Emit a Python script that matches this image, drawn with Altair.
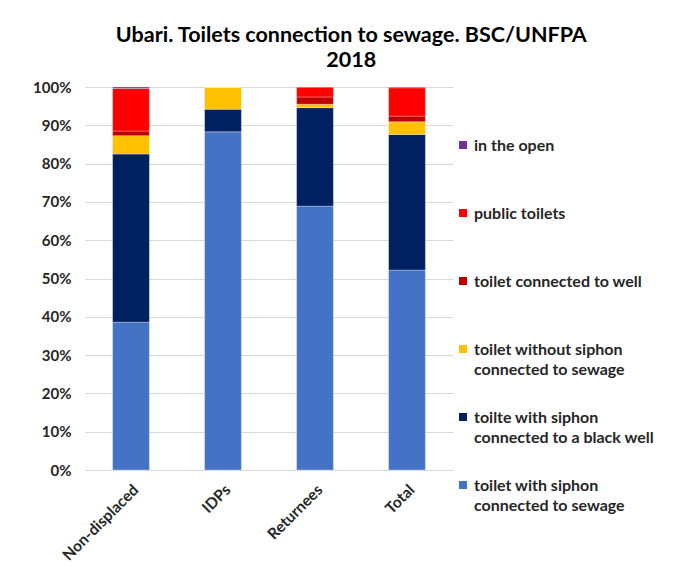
import altair as alt
import pandas as pd

categories = ["Non-displaced", "IDPs", "Returnees", "Total"]

series = [
    "toilet with siphon connected to sewage",
    "toilte with siphon connected to a black well",
    "toilet without siphon connected to sewage",
    "toilet connected to well",
    "public toilets",
    "in the open",
]
legend_labels = [
    "toilet with siphon\nconnected to sewage",
    "toilte with siphon\nconnected to a black well",
    "toilet without siphon\nconnected to sewage",
    "toilet connected to well",
    "public toilets",
    "in the open",
]
colors = ["#4472C4", "#002060", "#FFC000", "#C00000", "#FF0000", "#7030A0"]

sewage = [38.6, 88.3, 68.9, 52.2]
black_well = [43.9, 5.9, 25.7, 35.4]
no_siphon = [4.8, 5.8, 0.9, 3.3]
to_well = [1.2, 0.0, 1.9, 1.5]
public = [11.1, 0.0, 2.6, 7.4]
in_open = [0.4, 0.0, 0.0, 0.2]

all_values = [sewage, black_well, no_siphon, to_well, public, in_open]

rows = []
for si, (name, vals) in enumerate(zip(series, all_values)):
    for cat, v in zip(categories, vals):
        rows.append({"group": cat, "series": name, "value": v, "stack_idx": si})
df = pd.DataFrame(rows)

ldf = pd.DataFrame({"series": series, "label": legend_labels})
legend_order = list(reversed(series))

FONT = "Lato"
TXT = "#262626"
color_scale = alt.Scale(domain=series, range=colors)

bars = alt.Chart(df).mark_bar(stroke="white", strokeWidth=0.6, strokeOpacity=0.5).encode(
    x=alt.X("group:N", sort=categories, title=None,
            scale=alt.Scale(paddingInner=0.6, paddingOuter=0.3),
            axis=alt.Axis(labelAngle=-45, labelFontSize=15.5, labelFont=FONT,
                          labelFontWeight="bold", labelColor=TXT, ticks=False,
                          labelPadding=12, domainColor="#d9d9d9", grid=False)),
    y=alt.Y("value:Q", stack="normalize", title=None,
            scale=alt.Scale(domain=[0, 1]),
            axis=alt.Axis(format=".0%", values=[i / 10 for i in range(11)],
                          labelFontSize=15, labelFont=FONT, labelFontWeight="bold",
                          labelColor=TXT, ticks=False, labelPadding=14,
                          domain=False, grid=True, gridColor="#d9d9d9")),
    color=alt.Color("series:N", scale=color_scale, legend=None),
    order=alt.Order("stack_idx:Q", sort="ascending"),
).properties(width=368, height=383)

legend_y = alt.Y("series:N", sort=legend_order, axis=None,
                 scale=alt.Scale(type="point", range=[58, 398], padding=0))

squares = alt.Chart(ldf).mark_square(size=64, opacity=1).encode(
    x=alt.value(10),
    y=legend_y,
    color=alt.Color("series:N", scale=color_scale, legend=None),
)
texts = alt.Chart(ldf).mark_text(
    align="left", baseline="alphabetic", dy=6, lineBreak="\n",
    font=FONT, fontSize=16, fontWeight="bold", color=TXT, lineHeight=20,
).encode(
    x=alt.value(21),
    y=legend_y,
    text="label:N",
)
legend = alt.layer(squares, texts).properties(width=200, height=420)

chart = alt.hconcat(bars, legend, spacing=0).properties(
    title=alt.TitleParams(
        text=["Ubari. Toilets connection to sewage. BSC/UNFPA", "2018"],
        font=FONT, fontSize=21.5, fontWeight="bold", color="#000000",
        lineHeight=25, anchor="middle", offset=9, dx=8,
    ),
    padding={"left": 24, "top": 16, "right": 5, "bottom": 5},
    background="white",
).configure_view(strokeWidth=0)

chart.save("out.html", embed_options={"renderer": "svg", "actions": False})
